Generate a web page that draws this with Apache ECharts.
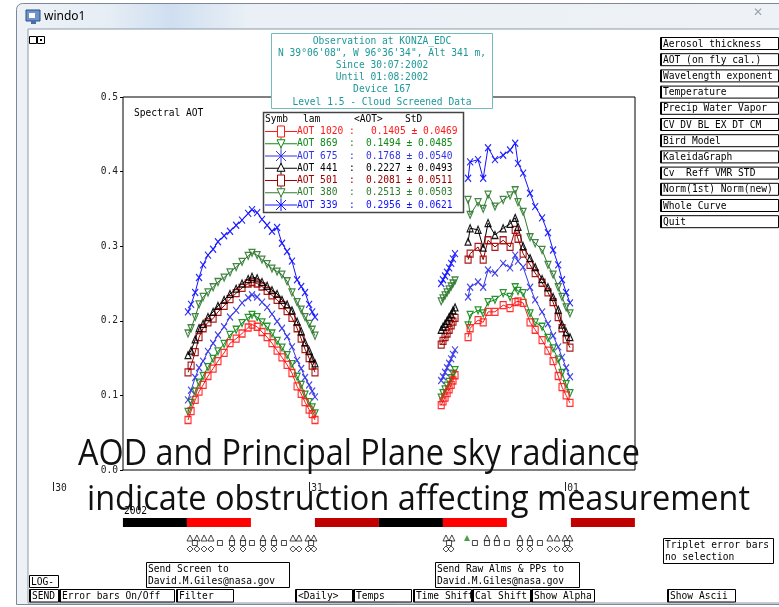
<!DOCTYPE html>
<html><head><meta charset="utf-8">
<script src="https://cdn.jsdelivr.net/npm/echarts@6/dist/echarts.min.js"></script>
<style>html,body{margin:0;padding:0;background:#fff}#c{width:779px;height:607px}</style>
</head><body><div id="c"></div><script>
// ---------------- DATA ----------------
const dayTickLabels = ['30', '31', '01'];
const yearLabel = '2002';
const wavelengths = ['1020', '869', '675', '441', '501', '380', '339'];
const meanAOT = ['0.1405', '0.1494', '0.1768', '0.2227', '0.2081', '0.2513', '0.2956'];
const stdAOT = ['0.0469', '0.0485', '0.0540', '0.0493', '0.0511', '0.0503', '0.0621'];

// times in days since 30 Jul 2002 00:00 UTC
const timesArc1 = [0.526,0.538,0.554,0.569,0.585,0.604,0.624,0.643,0.667,0.690,0.714,0.737,0.761,0.776,0.796,0.815,0.835,0.854,0.874,0.893,0.913,0.932,0.952,0.968,0.983,0.999,1.011,1.022];
const timesArc2a = [1.515,1.522,1.530,1.538,1.546,1.554,1.561,1.569];
const timesArc2b = [1.620,1.628,1.659,1.679,1.698,1.725,1.757,1.784,1.804,1.815,1.835,1.862,1.882,1.909,1.932,1.952,1.972,1.987,2.003,2.018];

const aot1020 = [0.067,0.079,0.094,0.105,0.114,0.126,0.136,0.146,0.157,0.170,0.176,0.183,0.191,0.195,0.192,0.185,0.178,0.170,0.160,0.151,0.141,0.130,0.112,0.102,0.091,0.081,0.075,0.067,
  0.087,0.092,0.097,0.103,0.108,0.114,0.120,0.127,
  0.178,0.190,0.201,0.198,0.212,0.212,0.221,0.217,0.225,0.226,0.224,0.198,0.188,0.174,0.160,0.146,0.126,0.111,0.100,0.090];
const aot869 = [0.078,0.090,0.105,0.117,0.126,0.138,0.149,0.159,0.169,0.181,0.188,0.197,0.204,0.208,0.205,0.198,0.192,0.183,0.173,0.164,0.154,0.142,0.125,0.114,0.101,0.091,0.084,0.076,
  0.097,0.103,0.108,0.113,0.118,0.123,0.129,0.134,
  0.194,0.208,0.214,0.210,0.225,0.228,0.237,0.232,0.245,0.240,0.237,0.210,0.198,0.192,0.177,0.163,0.148,0.130,0.115,0.103];
const aot675 = [0.094,0.107,0.124,0.137,0.146,0.159,0.170,0.181,0.192,0.205,0.214,0.224,0.231,0.235,0.232,0.225,0.218,0.209,0.199,0.190,0.179,0.165,0.147,0.136,0.124,0.114,0.106,0.098,
  0.120,0.125,0.131,0.137,0.143,0.149,0.155,0.161,
  0.232,0.245,0.252,0.245,0.268,0.264,0.277,0.271,0.288,0.280,0.272,0.245,0.228,0.212,0.196,0.180,0.165,0.151,0.137,0.125];
const aot441 = [0.154,0.160,0.175,0.190,0.196,0.205,0.212,0.220,0.228,0.236,0.243,0.250,0.256,0.259,0.257,0.252,0.247,0.241,0.236,0.228,0.222,0.214,0.199,0.186,0.171,0.160,0.150,0.143,
  0.188,0.192,0.196,0.200,0.205,0.209,0.214,0.218,
  0.306,0.324,0.322,0.298,0.331,0.315,0.324,0.330,0.338,0.326,0.300,0.284,0.272,0.256,0.245,0.232,0.215,0.195,0.185,0.178];
const aot501 = [0.131,0.140,0.158,0.178,0.190,0.198,0.203,0.212,0.220,0.229,0.237,0.244,0.250,0.252,0.250,0.246,0.240,0.234,0.228,0.221,0.213,0.204,0.190,0.176,0.162,0.150,0.140,0.131,
  0.168,0.173,0.178,0.183,0.188,0.194,0.199,0.204,
  0.282,0.290,0.299,0.282,0.308,0.299,0.308,0.299,0.322,0.310,0.290,0.275,0.264,0.251,0.238,0.225,0.205,0.190,0.175,0.164];
const aot380 = [0.183,0.190,0.205,0.222,0.232,0.238,0.245,0.252,0.258,0.265,0.272,0.279,0.287,0.291,0.288,0.282,0.276,0.270,0.266,0.262,0.253,0.238,0.225,0.215,0.205,0.196,0.188,0.180,
  0.226,0.230,0.234,0.238,0.242,0.246,0.250,0.254,
  0.362,0.342,0.359,0.350,0.369,0.353,0.362,0.368,0.375,0.359,0.346,0.312,0.304,0.295,0.275,0.262,0.245,0.232,0.218,0.210];
const aot339 = [0.212,0.222,0.238,0.258,0.275,0.288,0.296,0.306,0.314,0.320,0.328,0.335,0.344,0.349,0.345,0.336,0.328,0.320,0.325,0.304,0.293,0.280,0.255,0.246,0.238,0.222,0.212,0.205,
  0.250,0.255,0.260,0.265,0.271,0.277,0.283,0.290,
  0.391,0.413,0.416,0.391,0.432,0.416,0.422,0.429,0.438,0.411,0.398,0.371,0.353,0.338,0.318,0.295,0.275,0.255,0.238,0.224];

// status bar segments (days) and kind
const segStart = [0.272, 0.522, 1.022, 1.272, 1.522, 2.022];
const segEnd   = [0.522, 0.772, 1.272, 1.522, 1.772, 2.272];
const segKind  = ['K', 'R', 'D', 'K', 'R', 'D'];

// almucantar / principal plane markers (days)
const ppTriangles = [0.534,0.561,0.589,0.616,0.698,0.741,0.819,0.862,0.936,0.960,0.995,1.018,1.534,1.557,1.694,1.733,1.823,1.862,1.940,1.968,1.999,2.018];
const ppSquares = [0.553,0.651,0.698,0.741,0.776,0.819,0.862,0.901,1.007,1.546,1.647,1.694,1.733,1.772,1.823,1.862,1.901,2.007];
const ppDiamonds = [0.534,0.561,0.589,0.616,0.698,0.741,0.819,0.862,0.936,0.960,0.995,1.018,1.534,1.554,1.823,1.862,1.940,1.968,1.999,2.018];
const ppSelected = [1.616];

const sideButtons = ['Aerosol thickness','AOT (on fly cal.)','Wavelength exponent','Temperature','Precip Water Vapor','CV DV BL EX DT CM','Bird Model','KaleidaGraph','Cv  Reff VMR STD','Norm(1st) Norm(new)','Whole Curve','Quit'];
const bottomButtons = ['SEND','Error bars On/Off','Filter','<Daily>','Temps','Time Shift','Cal Shift','Show Alpha','Show Ascii'];
const infoLines = ['Observation at KONZA_EDC', 'N 39\u00b006\'08", W 96\u00b036\'34", Alt 341 m,', 'Since 30:07:2002', 'Until 01:08:2002', 'Device 167', 'Level 1.5 - Cloud Screened Data'];
const overlayLines = ['AOD and Principal Plane sky radiance', 'indicate obstruction affecting measurement'];

// ---------------- STYLE / LAYOUT ----------------
const MONO = '"DejaVu Sans Mono","Liberation Mono",monospace';
const FS = 9.6;
const SYM = {
  square: 'path://M0,0L8,0L8,10L0,10Z',
  triDown: 'path://M0,0L10,0L5,9Z',
  triUp: 'path://M5,0L10,9L0,9Z',
  cross: 'path://M0,0L10,10M10,0L0,10'
};
const STYLE = {
  '1020': {c: '#ff1a1a', s: 'square'},
  '869': {c: '#12891a', s: 'triDown'},
  '675': {c: '#3434e6', s: 'cross'},
  '441': {c: '#000000', s: 'triUp'},
  '501': {c: '#a00000', s: 'square'},
  '380': {c: '#2f7a2f', s: 'triDown'},
  '339': {c: '#1212ff', s: 'cross'}
};
const SERIES_VALUES = {'1020': aot1020, '869': aot869, '675': aot675, '441': aot441, '501': aot501, '380': aot380, '339': aot339};
const KIND_COLOR = {K: '#000000', R: '#ff0000', D: '#c00000'};
const BAR_TOP = 36, BAR_BOTTOM = 45, ROW_TRI = 56, ROW_SQ = 61, ROW_DIA = 67;

const segments = [timesArc1, timesArc2a, timesArc2b];
function buildData(vals) {
  const out = []; let k = 0;
  segments.forEach((seg, si) => {
    if (si > 0) out.push([seg[0], '-']);
    seg.forEach(t => out.push([t, vals[k++]]));
  });
  return out;
}

const drawOrder = ['339', '380', '501', '441', '675', '869', '1020'];
const mainSeries = drawOrder.map(w => ({
  type: 'line', name: 'AOT ' + w, xAxisIndex: 0, yAxisIndex: 0,
  data: buildData(SERIES_VALUES[w]),
  symbol: SYM[STYLE[w].s], symbolSize: [6, 7],
  showAllSymbol: true, connectNulls: false,
  lineStyle: {color: STYLE[w].c, width: 1},
  itemStyle: {color: 'rgba(0,0,0,0)', borderColor: STYLE[w].c, borderWidth: 1.2, opacity: 0.9},
  emphasis: {disabled: true}, z: 3
}));

// ---------------- GRAPHIC HELPERS ----------------
function T(x, y, text, o) {
  o = o || {};
  return {type: 'text', x: x, y: y, z: o.z || 50, silent: true,
    scaleX: o.sx || 1, scaleY: o.sy || 1,
    style: {text: text, fill: o.fill || '#000', font: (o.weight ? o.weight + ' ' : '') + (o.size || FS) + 'px ' + (o.family || MONO),
      textAlign: o.align || 'left', align: o.align || 'left', textVerticalAlign: o.va || 'middle', verticalAlign: o.va || 'middle'}};
}
function R(x, y, w, h, o) {
  o = o || {};
  return {type: 'rect', z: o.z || 40, silent: true, shape: {x: x, y: y, width: w, height: h},
    style: {fill: o.fill || 'none', stroke: o.stroke || null, lineWidth: o.lw || 1}};
}
function L(x1, y1, x2, y2, c, o) {
  o = o || {};
  return {type: 'line', z: o.z || 55, silent: true, shape: {x1: x1, y1: y1, x2: x2, y2: y2}, style: {stroke: c, lineWidth: o.lw || 1}};
}

const G = [];
// window chrome
G.push({type: 'rect', z: -6, silent: true, shape: {x: 0, y: 0, width: 779, height: 607}, style: {fill: '#ffffff'}});
G.push({type: 'rect', z: -5, silent: true, shape: {x: 16.5, y: 3.5, width: 775, height: 601, r: [6, 0, 0, 0]},
  style: {fill: new echarts.graphic.LinearGradient(0, 0, 1, 0, [{offset: 0, color: '#eef2f7'}, {offset: 0.12, color: '#e6edf5'}, {offset: 0.2, color: '#cfdff0'}, {offset: 0.3, color: '#eaf0f6'}, {offset: 1, color: '#eef2f6'}]), stroke: '#7d8896', lineWidth: 1}});
G.push({type: 'rect', z: -4, silent: true, shape: {x: 28, y: 29, width: 760, height: 574}, style: {fill: '#ffffff', stroke: '#8d99a8', lineWidth: 1}});
G.push({type: 'rect', z: -3, silent: true, shape: {x: 26, y: 10, width: 14, height: 11}, style: {fill: '#6e93c8', stroke: '#2b4f8c', lineWidth: 1}});
G.push({type: 'rect', z: -3, silent: true, shape: {x: 29, y: 13, width: 6, height: 5}, style: {fill: '#ffffff'}});
G.push({type: 'rect', z: -3, silent: true, shape: {x: 31, y: 21, width: 5, height: 3}, style: {fill: '#4a6fa8'}});
G.push(T(44, 17, 'windo1', {family: '"Noto Sans",sans-serif', size: 12, z: 5}));
G.push(T(758, 13, '\u2715', {family: '"DejaVu Sans",sans-serif', size: 12, fill: '#9aa3ad', align: 'center', z: 5}));
// top-left small icon
G.push(R(29.5, 36.5, 7, 7, {stroke: '#000', z: 20}));
G.push(R(37.5, 36.5, 7, 7, {stroke: '#000', z: 20}));
G.push(R(40, 39, 2, 2, {fill: '#000', z: 20}));

// info box
G.push(R(271.5, 33.5, 221, 75, {fill: '#ffffff', stroke: '#72bcbc', z: 60}));
infoLines.forEach((s, i) => G.push(T(382, 41 + i * 12.2, s, {fill: '#1f9898', align: 'center', z: 61})));

// Spectral AOT label
G.push(T(134, 113, 'Spectral AOT', {z: 20}));

// legend table
G.push(R(263.5, 112.5, 200, 100, {fill: '#ffffff', stroke: '#444', lw: 1.5, z: 60}));
G.push(T(265, 119, 'Symb', {z: 61}));
G.push(T(303, 119, 'lam', {z: 61}));
G.push(T(354, 119, '<AOT>', {z: 61}));
G.push(T(405, 119, 'StD', {z: 61}));
wavelengths.forEach((w, i) => {
  const y = 131.5 + i * 12.25, c = STYLE[w].c, s = STYLE[w].s;
  G.push(L(265, y, 297, y, c, {z: 61}));
  G.push(L(281, y - 6, 281, y + 6, c, {z: 61}));
  if (s === 'square') G.push({type: 'rect', z: 62, silent: true, shape: {x: 277.5, y: y - 5.5, width: 7, height: 11}, style: {fill: '#fff', stroke: c, lineWidth: 1}});
  if (s === 'triDown') G.push({type: 'polygon', z: 62, silent: true, shape: {points: [[277, y - 4], [285, y - 4], [281, y + 4]]}, style: {fill: '#fff', stroke: c, lineWidth: 1}});
  if (s === 'triUp') G.push({type: 'polygon', z: 62, silent: true, shape: {points: [[281, y - 5], [285, y + 3], [277, y + 3]]}, style: {fill: '#fff', stroke: c, lineWidth: 1}});
  if (s === 'cross') { G.push(L(276, y - 5, 286, y + 5, c, {z: 62})); G.push(L(286, y - 5, 276, y + 5, c, {z: 62})); }
  const label = 'AOT ' + (w + '    ').slice(0, 4) + ' :';
  G.push(T(297, y, label, {fill: c, z: 61}));
  G.push(T(i === 0 ? 371 : 366, y, meanAOT[i] + ' \u00b1 ' + stdAOT[i], {fill: c, z: 61}));
});

// right side buttons
sideButtons.forEach((s, i) => {
  const y = 37.5 + i * 16.2;
  G.push(R(660.5, y, 118, 12, {fill: '#fff', stroke: '#000', z: 30}));
  G.push(L(661.5, y, 661.5, y + 12, '#000', {z: 31}));
  G.push(T(663, y + 6.5, s, {z: 32}));
});

// bottom buttons
const bottomX = [[29, 58], [59, 174], [176, 233], [295, 352], [353, 411], [413, 471], [472, 530], [531, 594], [667, 735]];
bottomButtons.forEach((s, i) => {
  const b = bottomX[i];
  G.push(R(b[0] + 0.5, 589.5, b[1] - b[0], 12.5, {fill: '#fff', stroke: '#000', z: 30}));
  G.push(L(b[0] + 1.5, 589.5, b[0] + 1.5, 602, '#000', {z: 31}));
  G.push(T(b[0] + 3, 596, s, {z: 32}));
});
G.push(R(29.5, 575.5, 29, 12, {fill: '#fff', stroke: '#000', z: 30}));
G.push(T(31, 582, 'LOG-', {z: 32}));
G.push(R(146.5, 562.5, 143, 25, {fill: '#fff', stroke: '#000', z: 30}));
G.push(T(148, 569, 'Send Screen to', {z: 32}));
G.push(T(148, 581, 'David.M.Giles@nasa.gov', {z: 32}));
G.push(R(435.5, 562.5, 144, 25, {fill: '#fff', stroke: '#000', z: 30}));
G.push(T(437, 569, 'Send Raw Alms & PPs to', {z: 32}));
G.push(T(437, 581, 'David.M.Giles@nasa.gov', {z: 32}));
G.push(R(663.5, 538.5, 110, 25, {fill: '#fff', stroke: '#000', z: 30}));
G.push(T(665, 545, 'Triplet error bars', {z: 32}));
G.push(T(665, 557, 'no selection', {z: 32}));
G.push(T(124, 511, yearLabel, {z: 20}));

// big overlay text, horizontally fitted to reference widths
const OV_FONT = '"Open Sans", Lato, sans-serif';
const ctx = document.createElement('canvas').getContext('2d');
function fitScale(text, size, target) { ctx.font = size + 'px ' + OV_FONT; return target / ctx.measureText(text).width; }
G.push(T(78, 454, overlayLines[0], {family: OV_FONT, size: 37, fill: '#111', z: 90, sx: fitScale(overlayLines[0], 37, 562)}));
G.push(T(87, 500, overlayLines[1], {family: OV_FONT, size: 35, fill: '#111', z: 90, sx: fitScale(overlayLines[1], 35, 663)}));

// ---------------- CHART ----------------
const chart = echarts.init(document.getElementById('c'));
chart.setOption({
  animation: false,
  backgroundColor: 'transparent',
  grid: [
    {left: 123, top: 97, width: 512, height: 373, show: true, borderColor: '#000', borderWidth: 1, backgroundColor: 'transparent', z: 1},
    {left: 53.3, top: 482, width: 581.6, height: 80, show: false}
  ],
  xAxis: [
    {type: 'value', gridIndex: 0, min: 0.272, max: 2.272, axisLine: {show: false}, axisTick: {show: false}, axisLabel: {show: false}, splitLine: {show: false}},
    {type: 'value', gridIndex: 1, position: 'top', min: 0, max: 2.272, interval: 1,
      axisLine: {show: false}, splitLine: {show: false},
      axisTick: {show: true, inside: true, length: 9, lineStyle: {color: '#222', width: 1}},
      axisLabel: {show: true, inside: true, margin: 1, align: 'left', verticalAlign: 'top', padding: [0, 0, 0, 2], showMaxLabel: false,
        fontFamily: MONO, fontSize: 9.6, color: '#222', formatter: v => dayTickLabels[Math.round(v)] || ''}}
  ],
  yAxis: [
    {type: 'value', gridIndex: 0, min: 0, max: 0.5, interval: 0.1,
      axisLine: {show: false}, splitLine: {show: false},
      axisTick: {show: true, length: 3, lineStyle: {color: '#000'}},
      axisLabel: {margin: 5, fontFamily: MONO, fontSize: 9.6, color: '#222', formatter: v => v.toFixed(1)}},
    {type: 'value', gridIndex: 1, min: 0, max: 80, inverse: true, show: false}
  ],
  series: mainSeries.concat([
    {type: 'custom', xAxisIndex: 1, yAxisIndex: 1, clip: false, silent: true,
      data: segStart.map((s, i) => [s, segEnd[i], i]),
      encode: {x: [0, 1]},
      renderItem: function (params, api) {
        const i = api.value(2);
        const p0 = api.coord([api.value(0), BAR_TOP]);
        const p1 = api.coord([api.value(1), BAR_BOTTOM]);
        return {type: 'rect', shape: {x: p0[0], y: p0[1], width: p1[0] - p0[0], height: p1[1] - p0[1]}, style: {fill: KIND_COLOR[segKind[i]]}};
      }},
    {type: 'scatter', xAxisIndex: 1, yAxisIndex: 1, silent: true, data: ppTriangles.map(t => [t, ROW_TRI]),
      symbol: 'triangle', symbolSize: [6, 6], itemStyle: {color: '#fff', borderColor: '#000', borderWidth: 0.9}},
    {type: 'scatter', xAxisIndex: 1, yAxisIndex: 1, silent: true, data: ppSquares.map(t => [t, ROW_SQ]),
      symbol: 'rect', symbolSize: [5, 5], itemStyle: {color: '#fff', borderColor: '#000', borderWidth: 0.9}},
    {type: 'scatter', xAxisIndex: 1, yAxisIndex: 1, silent: true, data: ppDiamonds.map(t => [t, ROW_DIA]),
      symbol: 'diamond', symbolSize: [6, 6], itemStyle: {color: '#fff', borderColor: '#000', borderWidth: 0.9}},
    {type: 'scatter', xAxisIndex: 1, yAxisIndex: 1, silent: true, data: ppSelected.map(t => [t, ROW_TRI]),
      symbol: 'triangle', symbolSize: [6, 6], itemStyle: {color: '#1a8a1a'}}
  ]),
  graphic: {elements: G}
});
</script></body></html>
